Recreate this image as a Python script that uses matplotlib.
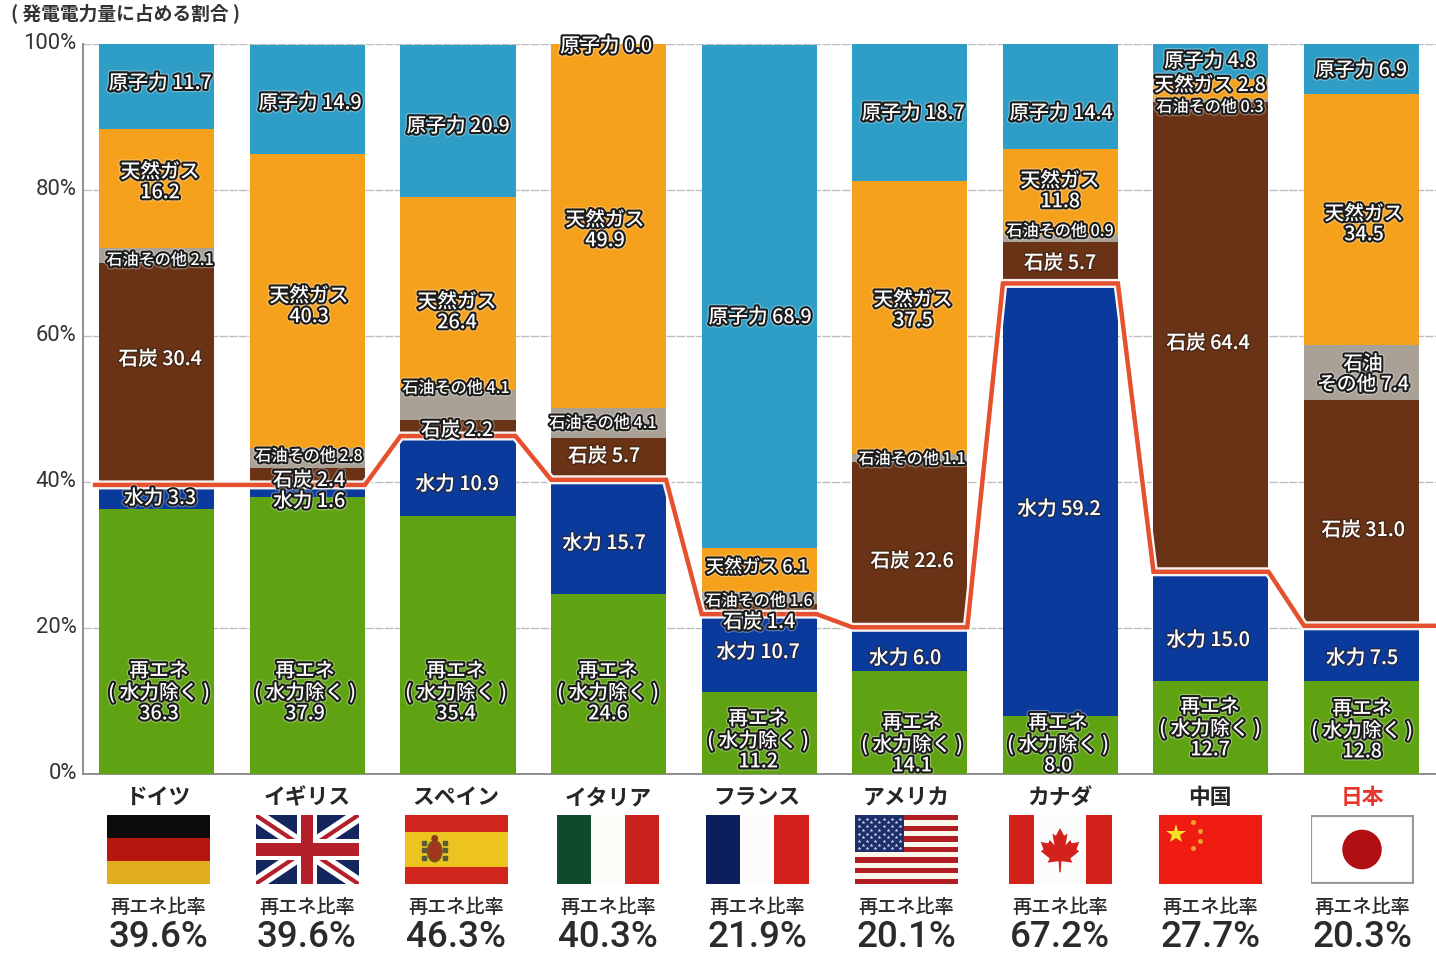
import numpy as np
import matplotlib
matplotlib.use("Agg")
import matplotlib.pyplot as plt
import matplotlib.patheffects as pe
from matplotlib.patches import Rectangle, Polygon, Ellipse
from matplotlib.transforms import ScaledTranslation

plt.rcParams['font.family'] = ['Noto Sans CJK JP', 'DejaVu Sans']

# ---------- data ----------
countries = ['ドイツ', 'イギリス', 'スペイン', 'イタリア', 'フランス', 'アメリカ', 'カナダ', '中国', '日本']
renew   = [36.3, 37.9, 35.4, 24.6, 11.2, 14.1,  8.0, 12.7, 12.8]
hydro   = [ 3.3,  1.6, 10.9, 15.7, 10.7,  6.0, 59.2, 15.0,  7.5]
coal    = [30.4,  2.4,  2.2,  5.7,  1.4, 22.6,  5.7, 64.4, 31.0]
oil     = [ 2.1,  2.8,  4.1,  4.1,  1.6,  1.1,  0.9,  0.3,  7.4]
gas     = [16.2, 40.3, 26.4, 49.9,  6.1, 37.5, 11.8,  2.8, 34.5]
nuclear = [11.7, 14.9, 20.9,  0.0, 68.9, 18.7, 14.4,  4.8,  6.9]
ratio   = [39.6, 39.6, 46.3, 40.3, 21.9, 20.1, 67.2, 27.7, 20.3]
tick_values = [0, 20, 40, 60, 80, 100]
tick_labels = ['0%', '20%', '40%', '60%', '80%', '100%']
title_text = '( 発電電力量に占める割合 )'
ratio_title = '再エネ比率'

# ---------- layout (pixels of the 1436x954 canvas) ----------
W, H = 1436, 954
COLORS = dict(renew='#5FA313', hydro='#0A3B9C', coal='#6A3315',
              oil='#A9A196', gas='#F6A11C', nuclear='#2F9EC6')
LABEL_PX = {  # (x, y) text centres
    'nuclear': [(160, 82), (310, 102), (458, 125), (606, 45), (760, 316), (913, 112), (1061, 112), (1210, 60), (1361, 69)],
    'gas':     [(160, 181), (309, 305), (457, 311), (605, 229), (757, 566), (913, 309), (1060, 190), (1210, 84), (1364, 223)],
    'oil':     [(160, 259), (309, 455), (456, 387), (603, 422), (759, 600), (912, 458), (1060, 230), (1210, 106), (1363, 373)],
    'coal':    [(160, 358), (309, 479), (457, 429), (604, 455), (759, 621), (912, 560), (1060, 262), (1208, 342), (1363, 529)],
    'hydro':   [(160, 497), (309, 500), (457, 483), (604, 542), (758, 651), (905, 657), (1059, 508), (1208, 639), (1362, 657)],
    'renew':   [(159, 691), (305, 691), (456, 691), (608, 691), (758, 739), (912, 743), (1058, 743), (1210, 727), (1362, 729)],
}
FLAG_CX = [158, 307, 456, 608, 757, 906, 1060, 1210, 1362]
FLAG_W, FLAG_H, FLAG_TOP = 103, 69, 816
NAME_CX = [158, 307, 456, 608, 757, 906, 1060, 1210, 1362]
RATIO_CX = [158, 307, 456, 608, 757, 906, 1060, 1210, 1362]
TEXT_DY = 2.5

fig = plt.figure(figsize=(W / 100, H / 100), dpi=100, facecolor='white')
ax = fig.add_axes([83 / W, 1 - 775 / H, (W - 83) / W, 730 / H])

SPACING = 150.6
FIRST = 156.8
ax.set_xlim((83 - FIRST) / SPACING, (W - FIRST) / SPACING)
ax.set_ylim(0, 100)
BAR_W = 115 / SPACING

x = np.arange(len(countries))
bottom = np.zeros(len(x))
for key, vals in [('renew', renew), ('hydro', hydro), ('coal', coal),
                  ('oil', oil), ('gas', gas), ('nuclear', nuclear)]:
    ax.bar(x, vals, BAR_W, bottom=bottom, color=COLORS[key], linewidth=0, zorder=3)
    bottom += np.array(vals)

# stepped ratio line
lx, ly = [], []
for i, r in zip(x, ratio):
    lx += [i - BAR_W / 2, i + BAR_W / 2]
    ly += [r, r]
lx[0] = -0.41
lx.append(ax.get_xlim()[1])
ly.append(ratio[-1])
ax.plot(lx, ly, color='white', lw=6.5, zorder=4, solid_joinstyle='miter', alpha=.95)
ax.plot(lx, ly, color='#E5502E', lw=3.2, zorder=5, solid_joinstyle='miter')

# axes styling
for s in ('top', 'right'):
    ax.spines[s].set_visible(False)
for s in ('left', 'bottom'):
    ax.spines[s].set_color('#8e8e8e')
    ax.spines[s].set_linewidth(1.4)
ax.set_xticks([])
ax.set_yticks(tick_values)
ax.set_yticklabels(tick_labels, fontsize=15.8, color='#333333', family=['Roboto', 'DejaVu Sans'])
ax.tick_params(axis='y', length=0, pad=4.5)
off = ScaledTranslation(0, 4 / 100, fig.dpi_scale_trans)
for lab in ax.get_yticklabels():
    lab.set_transform(lab.get_transform() + off)
ax.grid(axis='y', color='#bdbdbd', lw=1.0, ls=(0, (6, 1)), zorder=0)
ax.set_axisbelow(True)


def ftext(px, py, s, **kw):
    return fig.text(px / W, 1 - (py + TEXT_DY) / H, s, ha=kw.pop('ha', 'center'),
                    va=kw.pop('va', 'center'), **kw)


HEAVY = [pe.withStroke(linewidth=4.6, foreground='#ffffff55'),
         pe.withStroke(linewidth=3.0, foreground='#1c1c1c')]
LIGHT = [pe.withStroke(linewidth=2.2, foreground='#33221888')]
LS = 1.1


def seg_label(pos, s, size=14.2, effects=HEAVY, weight='medium'):
    t = ftext(pos[0], pos[1], s, color='white', fontsize=size, fontweight=weight,
              linespacing=LS, zorder=10)
    t.set_path_effects(effects)


for i in x:
    v = nuclear[i]
    seg_label(LABEL_PX['nuclear'][i], f'原子力 {v:.1f}')
    v = gas[i]
    if countries[i] in ('フランス', '中国'):
        seg_label(LABEL_PX['gas'][i], f'天然ガス {v:.1f}', size=13.0 if countries[i] == 'フランス' else 14.2)
    else:
        seg_label(LABEL_PX['gas'][i], f'天然ガス\n{v:.1f}')
    v = oil[i]
    if countries[i] == '日本':
        seg_label(LABEL_PX['oil'][i], f'石油\nその他 {v:.1f}')
    else:
        seg_label(LABEL_PX['oil'][i], f'石油その他 {v:.1f}', size=11.6)
    thin = countries[i] in ('イギリス', 'スペイン', 'フランス')
    seg_label(LABEL_PX['coal'][i], f'石炭 {coal[i]:.1f}', effects=HEAVY if thin else LIGHT)
    thin = countries[i] == 'ドイツ' or countries[i] == 'イギリス'
    seg_label(LABEL_PX['hydro'][i], f'水力 {hydro[i]:.1f}', effects=HEAVY if thin else LIGHT)
    seg_label(LABEL_PX['renew'][i], f'再エネ\n( 水力除く )\n{renew[i]:.1f}')

# title
ftext(11, 11, title_text, ha='left', fontsize=13.5, fontweight='bold', color='#333333')

# names and ratios under the bars
for i in x:
    ftext(NAME_CX[i], 795, countries[i], fontsize=15.7, fontweight='bold',
          color='#E8342A' if countries[i] == '日本' else '#262626')
    ftext(RATIO_CX[i], 905, ratio_title, fontsize=13.8, fontweight='medium', color='#2b2b2b')
    ftext(RATIO_CX[i], 935, f'{ratio[i]:.1f}%', fontsize=26.5, color='#2b2b2b',
          family=['Roboto', 'DejaVu Sans'], fontweight='medium')


# ---------- flags ----------
def flag_ax(cx):
    a = fig.add_axes([(cx - FLAG_W / 2) / W, 1 - (FLAG_TOP + FLAG_H) / H, FLAG_W / W, FLAG_H / H])
    a.set_xlim(0, 3)
    a.set_ylim(0, 2)
    a.set_xticks([])
    a.set_yticks([])
    for s in a.spines.values():
        s.set_visible(False)
    return a


def rect(a, x0, y0, w, h, c, **kw):
    a.add_patch(Rectangle((x0, y0), w, h, fc=c, ec='none', **kw))


def germany(a):
    rect(a, 0, 4 / 3, 3, 2 / 3, '#0b0b0b')
    rect(a, 0, 2 / 3, 3, 2 / 3, '#B5170F')
    rect(a, 0, 0, 3, 2 / 3, '#E0AE1C')


def uk(a):
    rect(a, 0, 0, 3, 2, '#14265E')
    for (p, q) in [((0, 0), (3, 2)), ((0, 2), (3, 0))]:
        a.plot(*zip(p, q), color='white', lw=10, solid_capstyle='butt', clip_on=True)
        a.plot(*zip(p, q), color='#B3202A', lw=3, solid_capstyle='butt', clip_on=True)
    rect(a, 1.2, 0, 0.6, 2, 'white', zorder=3)
    rect(a, 0, 0.7, 3, 0.6, 'white', zorder=3)
    rect(a, 1.32, 0, 0.36, 2, '#B3202A', zorder=4)
    rect(a, 0, 0.82, 3, 0.36, '#B3202A', zorder=4)


def spain(a):
    rect(a, 0, 0, 3, 2, '#D0261D')
    rect(a, 0, 0.5, 3, 1, '#EDC31F')
    a.add_patch(Ellipse((0.88, 0.95), 0.42, 0.6, fc='#A3351F', ec='#6d5a20', lw=1.2))
    a.add_patch(Ellipse((0.88, 1.32), 0.2, 0.2, fc='#8c3a1b', ec='none'))
    a.plot([0.58, 0.58, 0.58, 1.18, 1.18, 1.18], [0.75, 0.98, 1.2, 0.75, 0.98, 1.2], ls='none',
           marker='s', ms=2.6, color='#5a5a3a')


def italy(a):
    rect(a, 0, 0, 1, 2, '#0F4A2E')
    rect(a, 1, 0, 1, 2, '#FCFCF8')
    rect(a, 2, 0, 1, 2, '#C9211E')


def france(a):
    rect(a, 0, 0, 1, 2, '#0C1F5C')
    rect(a, 1, 0, 1, 2, '#FCFCFC')
    rect(a, 2, 0, 1, 2, '#D5211C')


def usa(a):
    h = 2 / 13
    for k in range(13):
        rect(a, 0, 2 - (k + 1) * h, 3, h, '#B01E24' if k % 2 == 0 else '#FBF7EA')
    rect(a, 0, 2 - 7 * h, 1.45, 7 * h, '#1E2F6E', zorder=3)
    xs, ys = [], []
    for r in range(9):
        n = 6 if r % 2 == 0 else 5
        for c in range(n):
            xs.append((c + (0.5 if r % 2 == 0 else 1.0)) * 1.45 / 6)
            ys.append(2 - (r + 1) * 7 * h / 10)
    a.plot(xs, ys, ls='none', marker='*', ms=2.8, color='#dfe6f5', mew=0, zorder=4)


def canada(a):
    rect(a, 0, 0, 3, 2, '#FCFCFC')
    rect(a, 0, 0, 0.75, 2, '#D3211B')
    rect(a, 2.25, 0, 0.75, 2, '#D3211B')
    leaf = np.array([[0, 1.62], [-.12, 1.4], [-.22, 1.46], [-.16, 1.12], [-.30, 1.28], [-.34, 1.18],
                     [-.56, 1.22], [-.48, 1.0], [-.56, .95], [-.30, .74], [-.36, .62], [-.04, .66],
                     [-.02, .34], [.02, .34], [.04, .66], [.36, .62], [.30, .74], [.56, .95],
                     [.48, 1.0], [.56, 1.22], [.34, 1.18], [.30, 1.28], [.16, 1.12], [.22, 1.46],
                     [.12, 1.4]])
    leaf[:, 0] += 1.5
    a.add_patch(Polygon(leaf, closed=True, fc='#D3211B', ec='none'))


def china(a):
    rect(a, 0, 0, 3, 2, '#F01C12')
    a.plot([0.5], [1.45], marker='*', ms=15, color='#F5E32B', mew=0)
    a.plot([1.0, 1.22, 1.22, 1.0], [1.8, 1.55, 1.25, 1.05], ls='none', marker='o', ms=3.6,
           color='#F0A030', mew=0)


def japan(a):
    rect(a, 0, 0, 3, 2, '#FFFFFF')
    a.add_patch(Ellipse((1.5, 1.0), 1.15, 1.15, fc='#B10F14', ec='none'))
    a.add_patch(Rectangle((0.02, 0.03), 2.96, 1.94, fc='none', ec='#9a9a9a', lw=1.6))


for cx, fn in zip(FLAG_CX, [germany, uk, spain, italy, france, usa, canada, china, japan]):
    fn(flag_ax(cx))

fig.savefig('out.png', dpi=100, facecolor='white')
